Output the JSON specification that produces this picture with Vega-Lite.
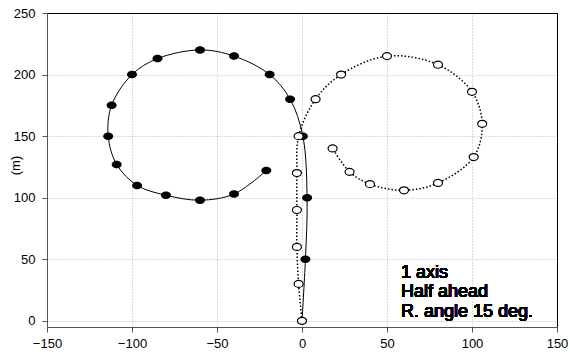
{
  "$schema": "https://vega.github.io/schema/vega-lite/v6.json",
  "width": 510,
  "height": 314,
  "autosize": {"type": "none"},
  "padding": {"left": 47, "top": 13, "right": 13, "bottom": 28},
  "background": "white",
  "config": {
    "view": {"stroke": "black", "strokeWidth": 1},
    "axis": {
      "domainColor": "#555555",
      "tickColor": "#555555",
      "tickSize": 5,
      "labelFont": "Liberation Sans",
      "labelFontSize": 13,
      "labelColor": "black",
      "titleFont": "Liberation Sans",
      "titleFontSize": 13,
      "titleFontWeight": "normal",
      "titleColor": "black"
    }
  },
  "data": {
    "values": [
      {"series": "filled", "i": 0, "x": 0, "y": 0},
      {"series": "filled", "i": 1, "x": 2, "y": 50},
      {"series": "filled", "i": 2, "x": 3, "y": 100},
      {"series": "filled", "i": 3, "x": 0.5, "y": 150},
      {"series": "filled", "i": 4, "x": -7, "y": 180},
      {"series": "filled", "i": 5, "x": -19, "y": 200},
      {"series": "filled", "i": 6, "x": -40, "y": 215},
      {"series": "filled", "i": 7, "x": -60, "y": 220},
      {"series": "filled", "i": 8, "x": -85, "y": 213},
      {"series": "filled", "i": 9, "x": -100, "y": 200},
      {"series": "filled", "i": 10, "x": -112, "y": 175},
      {"series": "filled", "i": 11, "x": -114, "y": 150},
      {"series": "filled", "i": 12, "x": -109, "y": 127},
      {"series": "filled", "i": 13, "x": -97, "y": 110},
      {"series": "filled", "i": 14, "x": -80, "y": 102},
      {"series": "filled", "i": 15, "x": -60, "y": 98},
      {"series": "filled", "i": 16, "x": -40, "y": 103},
      {"series": "filled", "i": 17, "x": -21, "y": 122},
      {"series": "open", "i": 0, "x": 0, "y": 0},
      {"series": "open", "i": 1, "x": -2, "y": 30},
      {"series": "open", "i": 2, "x": -3, "y": 60},
      {"series": "open", "i": 3, "x": -3, "y": 90},
      {"series": "open", "i": 4, "x": -3, "y": 120},
      {"series": "open", "i": 5, "x": -2, "y": 150},
      {"series": "open", "i": 6, "x": 8, "y": 180},
      {"series": "open", "i": 7, "x": 23, "y": 200},
      {"series": "open", "i": 8, "x": 50, "y": 215},
      {"series": "open", "i": 9, "x": 80, "y": 208},
      {"series": "open", "i": 10, "x": 100, "y": 186},
      {"series": "open", "i": 11, "x": 106, "y": 160},
      {"series": "open", "i": 12, "x": 101, "y": 133},
      {"series": "open", "i": 13, "x": 80, "y": 112},
      {"series": "open", "i": 14, "x": 60, "y": 106},
      {"series": "open", "i": 15, "x": 40, "y": 111},
      {"series": "open", "i": 16, "x": 28, "y": 121},
      {"series": "open", "i": 17, "x": 18, "y": 140}
    ]
  },
  "encoding": {
    "x": {
      "field": "x",
      "type": "quantitative",
      "scale": {"domain": [-150, 150], "nice": false, "zero": false},
      "axis": {
        "values": [-150, -100, -50, 0, 50, 100, 150],
        "title": null,
        "labelPadding": 5,
        "labelFlush": false,
        "gridColor": {"condition": {"test": "datum.value === 150", "value": "black"}, "value": "#b5b5b5"},
        "gridDash": {"condition": {"test": "datum.value === 150", "value": []}, "value": [1, 2]}
      }
    },
    "y": {
      "field": "y",
      "type": "quantitative",
      "scale": {"domain": [-5, 250], "nice": false, "zero": false},
      "axis": {
        "values": [0, 50, 100, 150, 200, 250],
        "title": "(m)",
        "labelPadding": 7,
        "labelFlush": false,
        "titleX": -32,
        "titleY": 152,
        "titleAngle": -90,
        "titleAlign": "center",
        "titleBaseline": "middle",
        "gridColor": {"condition": {"test": "datum.value === 250", "value": "black"}, "value": "#b5b5b5"},
        "gridDash": {"condition": {"test": "datum.value === 250", "value": []}, "value": [1, 2]}
      }
    },
    "order": {"field": "i", "type": "quantitative"}
  },
  "layer": [
    {
      "transform": [{"filter": "datum.series === 'filled'"}],
      "mark": {"type": "line", "interpolate": "catmull-rom", "color": "black", "strokeWidth": 1}
    },
    {
      "transform": [{"filter": "datum.series === 'filled'"}],
      "mark": {"type": "point", "shape": "M -1 0 A 1 0.75 0 1 0 1 0 A 1 0.75 0 1 0 -1 0 Z", "size": 100, "filled": true, "color": "black", "opacity": 1}
    },
    {
      "transform": [{"filter": "datum.series === 'open'"}],
      "mark": {"type": "line", "interpolate": "catmull-rom", "color": "black", "strokeWidth": 1.5, "strokeDash": [1.5, 2]}
    },
    {
      "transform": [{"filter": "datum.series === 'open'"}],
      "mark": {"type": "point", "shape": "M -1 0 A 1 0.78 0 1 0 1 0 A 1 0.78 0 1 0 -1 0 Z", "size": 81, "filled": true, "fill": "white", "stroke": "black", "strokeWidth": 1.2, "opacity": 1}
    },
    {
      "mark": {"type": "text", "align": "left", "baseline": "top", "font": "Liberation Sans", "fontSize": 18, "fontWeight": "normal", "lineHeight": 19.5, "fill": "black"},
      "encoding": {
        "x": {"datum": 58.2},
        "y": {"datum": 46.5},
        "text": {"value": ["1 axis", "Half ahead", "R. angle 15 deg."]},
        "order": null
      }
    }
  ]
}
